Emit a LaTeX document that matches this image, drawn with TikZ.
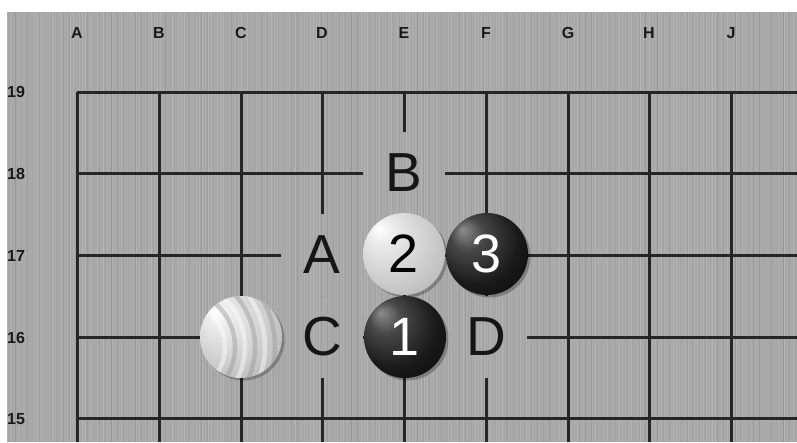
\documentclass[tikz,border=0pt]{standalone}
\usepackage{fontspec}
\setmainfont{Liberation Sans}
\definecolor{boardgray}{RGB}{168,168,168}
\definecolor{gridline}{RGB}{38,38,38}
\definecolor{labelink}{RGB}{22,22,22}
\pgfdeclareradialshading{blackstone}{\pgfpoint{-15bp}{15bp}}{%
  color(0bp)=(black!45); color(10bp)=(black!72); color(26bp)=(black!90); color(50bp)=(black)}
\pgfdeclareradialshading{whitestone}{\pgfpoint{-16bp}{16bp}}{%
  color(0bp)=(white); color(8bp)=(black!8); color(28bp)=(black!22); color(44bp)=(black!34); color(50bp)=(black!48)}
\tikzset{
  gridstyle/.style={draw=gridline, line width=3pt},
  coordlbl/.style={font=\bfseries\fontsize{16}{16}\selectfont, text=black!90, inner sep=0pt},
  bigletter/.style={font=\fontsize{55}{55}\selectfont, text=labelink, inner sep=0pt},
  stonebase/.style={circle, minimum size=82pt, inner sep=0pt, font=\fontsize{54}{54}\selectfont},
  bstone/.style={stonebase, shade, shading=blackstone, text=white},
  wstone/.style={stonebase, shade, shading=whitestone, text=black},
  shadowdisc/.style={fill=black, opacity=0.25}
}
\begin{document}
\begin{tikzpicture}[x=1pt,y=-1pt]
\useasboundingbox (0,0) rectangle (797,442);
\fill[white] (0,0) rectangle (797,442);
\fill[boardgray] (7,12) rectangle (797,442);
% wood-like vertical stripes
\pgfmathsetseed{5}
\foreach \i in {0,...,262}{
  \pgfmathsetmacro\o{rnd*0.16}
  \fill[white, opacity=\o] (7+3*\i,12) rectangle ++(1.4,430);
}
\pgfmathsetseed{11}
\foreach \i in {0,...,130}{
  \pgfmathsetmacro\o{rnd*0.10}
  \fill[black, opacity=\o] (8.5+6*\i,12) rectangle ++(1.5,430);
}
% grid with gaps behind the letter labels
\begin{scope}[even odd rule]
  \clip (7,12) rectangle (797,442)
    (363,132) rectangle (445,214)
    (281,214) rectangle (363,296)
    (281,296) rectangle (363,378)
    (445,296) rectangle (527,378);
  \foreach \y in {92,173,255,337,418}
    \draw[gridstyle] (77,\y) -- (797,\y);
  \foreach \x in {77,159,241,322,404,486,568,649,731}
    \draw[gridstyle] (\x,92) -- (\x,442);
\end{scope}
% column labels
\foreach \x/\t in {77/A,159/B,241/C,322/D,404/E,486/F,568/G,649/H,731/J}
  \node[coordlbl] (col\t) at (\x,33) {\t};
% row labels
\foreach \y/\t in {92/19,174/18,256/17,338/16,419/15}
  \node[coordlbl, anchor=west] (row\t) at (7,\y) {\t};
% letter labels
\node[bigletter] (lblB) at (404,173) {B};
\node[bigletter] (lblA) at (322,255) {A};
\node[bigletter] (lblC) at (322,337) {C};
\node[bigletter] (lblD) at (486,337) {D};
% shadows
\foreach \x/\y in {241/337,405/337,404/254,487/254}
  \fill[shadowdisc] (\x+2.5,\y+2.5) circle (41);
% stones
\node[wstone, path picture={
    \foreach \r/\c/\o in {48/white/0.45,58/black!40/0.45,68/white/0.45,78/black!40/0.45,88/white/0.45,98/black!40/0.45,108/white/0.4}
      \draw[\c, opacity=\o, line width=4.5pt] ([xshift=-64pt,yshift=-10pt]path picture bounding box.center) circle (\r pt);
  }] (wC16) at (241,337) {};
\node[wstone, path picture={
    \foreach \k in {-40,-25,-10,5,20,35}
      \draw[black!30, opacity=0.3, line width=3pt] ([xshift=\k pt,yshift=-45pt]path picture bounding box.center) -- ++(40pt,-90pt);
  }] (s2) at (404,254) {2};
\node[bstone] (s3) at (487,254) {3};
\node[bstone] (s1) at (405,337) {1};
\end{tikzpicture}
\end{document}
